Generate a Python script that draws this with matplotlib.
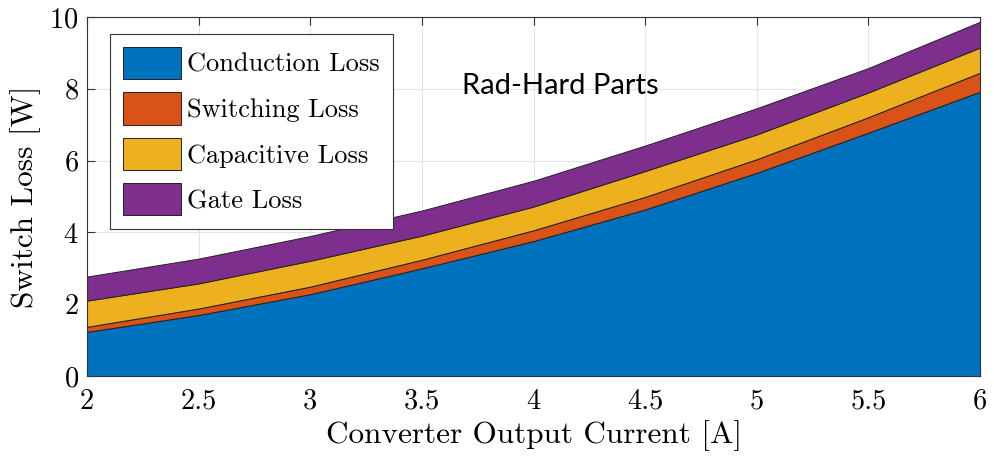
import matplotlib
matplotlib.use("Agg")
import matplotlib.pyplot as plt
import numpy as np

plt.rcParams['font.family'] = 'cmr10'
plt.rcParams['axes.formatter.use_mathtext'] = True

# loss breakdown vs output current (W), stacked
current = [2.0, 2.5, 3.0, 3.5, 4.0, 4.5, 5.0, 5.5, 6.0]
conduction = [1.23, 1.70, 2.28, 3.00, 3.76, 4.64, 5.66, 6.78, 7.92]
switching = [0.14, 0.18, 0.21, 0.24, 0.30, 0.35, 0.38, 0.43, 0.53]
capacitive = [0.73, 0.70, 0.72, 0.67, 0.66, 0.72, 0.69, 0.69, 0.70]
gate = [0.67, 0.69, 0.69, 0.70, 0.72, 0.71, 0.73, 0.68, 0.72]

labels = ['Conduction Loss', 'Switching Loss', 'Capacitive Loss', 'Gate Loss']
colors = ['#0072BD', '#D95319', '#EDB120', '#7E2F8E']

fig = plt.figure(figsize=(9.94, 4.65), dpi=100)
ax = fig.add_axes([0.0875, 0.1914, 0.8985, 0.772])

ax.stackplot(current, conduction, switching, capacitive, gate,
             labels=labels, colors=colors, edgecolor='#222222', linewidth=0.7,
             zorder=2)

ax.set_xlim(2, 6)
ax.set_ylim(0, 10)
ax.set_xticks(np.arange(2, 6.01, 0.5))
ax.set_xticklabels(['2', '2.5', '3', '3.5', '4', '4.5', '5', '5.5', '6'])
ax.set_yticks([0, 2, 4, 6, 8, 10])
ax.grid(True, color='#e3e3e3', linewidth=0.8, zorder=0)
ax.set_axisbelow(True)
ax.tick_params(direction='in', top=True, right=True, length=6, width=0.8,
               color='#333333', labelsize=20.5)
ax.tick_params(axis='x', pad=9)
ax.tick_params(axis='y', pad=6)
for s in ax.spines.values():
    s.set_color('#333333')
    s.set_linewidth(0.8)
    s.set_zorder(3)

ax.set_xlabel('Converter Output Current [A]', fontsize=22.5, labelpad=4)
ax.set_ylabel('Switch Loss [W]', fontsize=22.5, labelpad=6)

leg = ax.legend(loc='upper left', bbox_to_anchor=(0.026, 0.953), fontsize=19,
                handlelength=2.2, handleheight=1.5, handletextpad=0.22,
                labelspacing=0.5, borderpad=0.5, borderaxespad=0,
                fancybox=False, framealpha=1, edgecolor='#333333')
leg.get_frame().set_linewidth(0.8)

ax.text(0.53, 0.808, 'Rad-Hard Parts', transform=ax.transAxes, ha='center',
        va='center', fontsize=21, family=['Lato', 'DejaVu Sans'])

fig.savefig('out.png', dpi=100)
